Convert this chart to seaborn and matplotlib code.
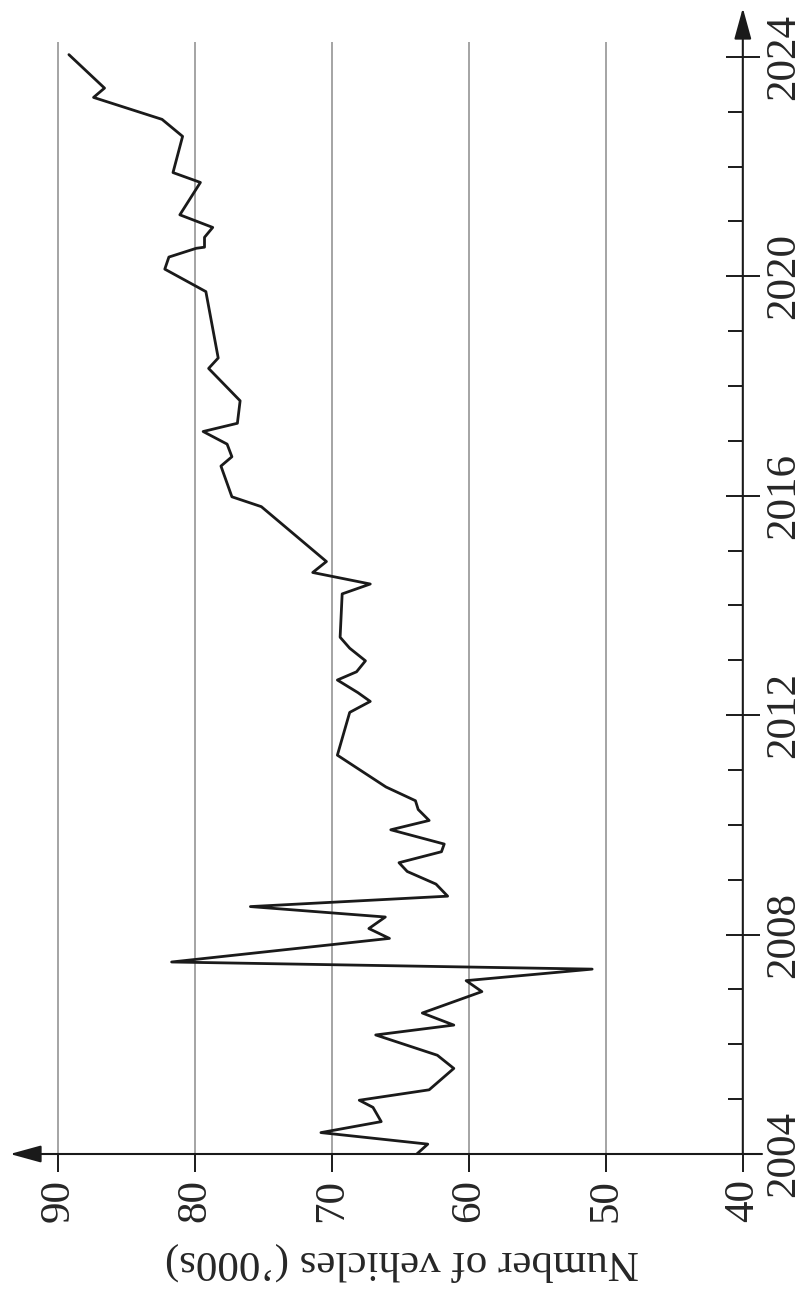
import pandas as pd
import matplotlib.pyplot as plt
import seaborn as sns

years = [2004.00, 2004.18, 2004.39, 2004.59, 2004.85, 2004.98, 2005.17, 2005.56,
         2005.80, 2006.17, 2006.35, 2006.57, 2006.96, 2007.16, 2007.37, 2007.50,
         2007.93, 2008.11, 2008.32, 2008.51, 2008.70, 2008.92, 2009.15, 2009.31,
         2009.51, 2009.65, 2009.91, 2010.08, 2010.28, 2010.44, 2010.69, 2011.27,
         2012.05, 2012.25, 2012.41, 2012.64, 2012.79, 2012.99, 2013.22, 2013.42,
         2014.21, 2014.39, 2014.60, 2014.80, 2015.80, 2015.98, 2016.54, 2016.71,
         2016.94, 2017.17, 2017.32, 2017.73, 2018.32, 2018.51, 2019.72, 2020.13,
         2020.35, 2020.51, 2020.53, 2020.71, 2020.89, 2021.12, 2021.71, 2021.89,
         2022.55, 2022.86, 2023.26, 2023.43, 2024.04]
vehicles = [63.8, 63.0, 70.8, 66.4, 67.0, 68.0, 62.9, 61.1,
            62.3, 66.8, 61.1, 63.4, 59.05, 60.2, 51.0, 81.7,
            65.8, 67.3, 66.1, 75.95, 61.55, 62.4, 64.5, 65.1,
            62.0, 61.8, 65.7, 62.9, 63.7, 63.9, 66.05, 69.6,
            68.7, 67.2, 68.1, 69.6, 68.2, 67.55, 68.7, 69.4,
            69.25, 67.2, 71.4, 70.4, 75.15, 77.3, 78.1, 77.3,
            77.65, 79.4, 76.9, 76.7, 79.0, 78.3, 79.2, 82.2,
            81.9, 79.9, 79.3, 79.3, 78.7, 81.1, 79.6, 81.6,
            80.9, 82.4, 87.4, 86.6, 89.2]

value_ticks = [40, 50, 60, 70, 80, 90]
grid_values = [50, 60, 70, 80, 90]
year_major = list(range(2004, 2025, 4))
year_minor = list(range(2004, 2025))

df = pd.DataFrame({'year': years, 'vehicles': vehicles})

sns.set_style('white')
plt.rcParams['font.family'] = ['Liberation Serif', 'DejaVu Serif']

fig = plt.figure(figsize=(8.09, 12.97), dpi=100)
ax = fig.add_axes([10/809, 1 - 1154/1297, 752/809, 1146/1297])

x_left, x_right = 93.5, 38.6
y_bot, y_top = 2004, 2024.89
ax.set_xlim(x_left, x_right)
ax.set_ylim(y_bot, y_top)

ax.vlines(grid_values, y_bot, 2024.27, color='#8c8c8c', lw=1.1, zorder=1)

sns.lineplot(data=df, x='vehicles', y='year', sort=False, estimator=None,
             color='#1a1a1a', lw=2.0, ax=ax, zorder=3)

for s in ax.spines.values():
    s.set_visible(False)
ax.spines['right'].set_position(('data', 40))

# axes with arrowheads
arrow = dict(arrowstyle='-|>,head_length=0.8,head_width=0.22', color='#1a1a1a',
             lw=1.5, mutation_scale=24, shrinkA=0, shrinkB=0)
ax.annotate('', xy=(40, y_top), xytext=(40, y_bot), arrowprops=arrow,
            annotation_clip=False)
ax.annotate('', xy=(x_left, y_bot), xytext=(x_right, y_bot), arrowprops=arrow,
            annotation_clip=False)

ax.set_xticks(value_ticks)
ax.set_xticklabels([str(v) for v in value_ticks], rotation=90, fontsize=31)
ax.tick_params(axis='x', direction='out', length=13, width=1.4, color='#1a1a1a',
               pad=5, bottom=True)

ax.yaxis.set_ticks_position('right')
ax.set_yticks(year_major)
ax.set_yticks(year_minor, minor=True)
ax.set_yticklabels([str(y) for y in year_major], rotation=90, fontsize=31, va='center')
ax.tick_params(axis='y', which='major', direction='inout', length=25, width=1.4,
               color='#1a1a1a', pad=3, right=True)
ax.tick_params(axis='y', which='minor', direction='in', length=11, width=1.4,
               color='#1a1a1a', right=True)

ax.set_xlabel('')
ax.set_ylabel('')
fig.text(402/809, 1 - 1262/1297, 'Number of vehicles (\u2019000s)', rotation=180,
         ha='center', va='center', fontsize=31)

fig.savefig('out.png', dpi=100)
